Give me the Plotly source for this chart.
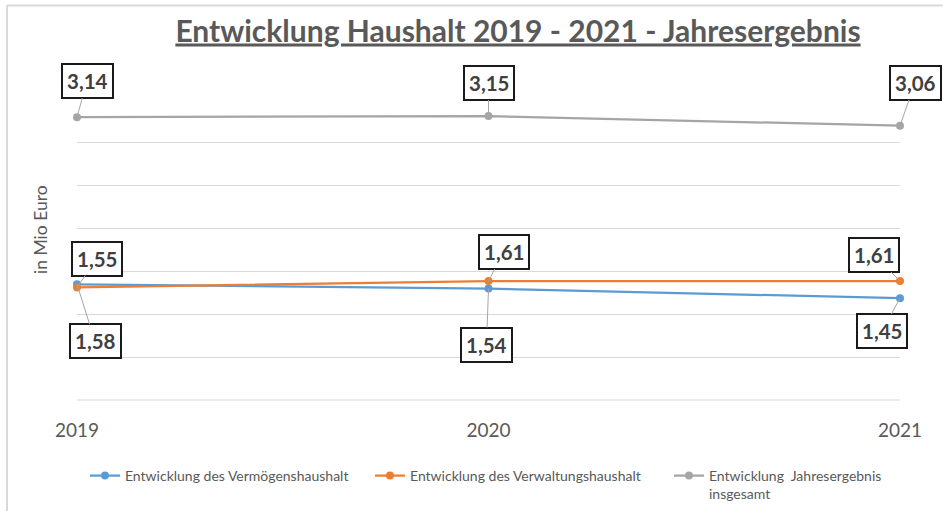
import plotly.graph_objects as go

years = [2019, 2020, 2021]
year_labels = ["2019", "2020", "2021"]
verm = [1.58, 1.54, 1.45]
verw = [1.55, 1.61, 1.61]
gesamt = [3.14, 3.15, 3.06]
names = ["Entwicklung des Vermögenshaushalt",
         "Entwicklung des Verwaltungshaushalt",
         "Entwicklung  Jahresergebnis<br>insgesamt"]
colors = ["#5b9bd5", "#ed7d31", "#a5a5a5"]

# label offsets (px) for each series / year
off_verm = [(18, 57), (-2, 56), (-18, 33)]
off_verw = [(20, -29), (15, -29), (-26, -26)]
off_ges = [(10, -36), (0, -33), (15, -43)]

FONT = "Lato"
fig = go.Figure()
legend_ids = ["legend", "legend2", "legend3"]
for vals, nm, col, lg in zip([verm, verw, gesamt], names, colors, legend_ids):
    fig.add_trace(go.Scatter(x=years, y=vals, name=nm, mode="lines+markers",
                             line=dict(color=col, width=2.25),
                             marker=dict(color=col, size=8),
                             cliponaxis=False, legend=lg, showlegend=True))

def fmt(v):
    return f"{v:.2f}".replace(".", ",")

ann = []
for vals, offs in [(verm, off_verm), (verw, off_verw), (gesamt, off_ges)]:
    for xv, yv, (ax, ay) in zip(years, vals, offs):
        ann.append(dict(x=xv, y=yv, xref="x", yref="y", text=fmt(yv),
                        showarrow=True, arrowhead=0, arrowwidth=1, arrowcolor="#a6a6a6",
                        ax=ax, ay=ay, standoff=0,
                        font=dict(family=FONT, size=20.5, color="#404040", weight="bold"),
                        bgcolor="white", bordercolor="#1a1a1a", borderwidth=2, borderpad=4))

ann.append(dict(x=-0.045, y=0.57, xref="paper", yref="paper", text="in Mio Euro",
                xanchor="center", yanchor="middle",
                showarrow=False, textangle=-90,
                font=dict(family=FONT, size=17.5, color="#595959")))

leg_common = dict(orientation="h", xanchor="left", y=-0.2, yanchor="top",
                  font=dict(family=FONT, size=14, color="#595959"), valign="top",
                  bgcolor="rgba(0,0,0,0)")

fig.update_layout(
    width=943, height=511,
    showlegend=True,
    margin=dict(l=77, r=43, t=100, b=111, autoexpand=False),
    paper_bgcolor="white", plot_bgcolor="white",
    title=dict(text="<u>Entwicklung Haushalt 2019 - 2021 - Jahresergebnis</u>",
               x=518/943, xanchor="center", y=1-31/511, yanchor="middle",
               font=dict(family=FONT, size=30, color="#595959", weight="bold")),
    xaxis=dict(range=[2019, 2021], tickvals=years, ticktext=year_labels,
               showgrid=False, zeroline=False, showline=False,
               ticks="", ticklabelstandoff=17,
               tickfont=dict(family=FONT, size=19, color="#595959")),
    yaxis=dict(range=[0.5, 3.3], tick0=0.5, dtick=0.4, showticklabels=False,
               showgrid=True, gridcolor="#d9d9d9", gridwidth=1,
               zeroline=False, showline=False),
    legend=dict(x=0.0097, **leg_common),
    legend2=dict(x=0.356, **leg_common),
    legend3=dict(x=0.7193, **leg_common),
    annotations=ann,
    shapes=[dict(type="line", xref="paper", yref="paper", x0=-0.085, x1=1.06,
                 y0=1.315, y1=1.315, line=dict(color="#d9d9d9", width=2)),
            dict(type="line", xref="paper", yref="paper", x0=-0.085, x1=-0.085,
                 y0=1.315, y1=-0.4, line=dict(color="#d9d9d9", width=2)),
            dict(type="line", xref="paper", yref="paper", x0=0, x1=1,
                 y0=0, y1=0, line=dict(color="#d9d9d9", width=1))],
)
fig.write_html("out.html", config={"displayModeBar": False},
               post_script="document.body.style.margin='0';")
